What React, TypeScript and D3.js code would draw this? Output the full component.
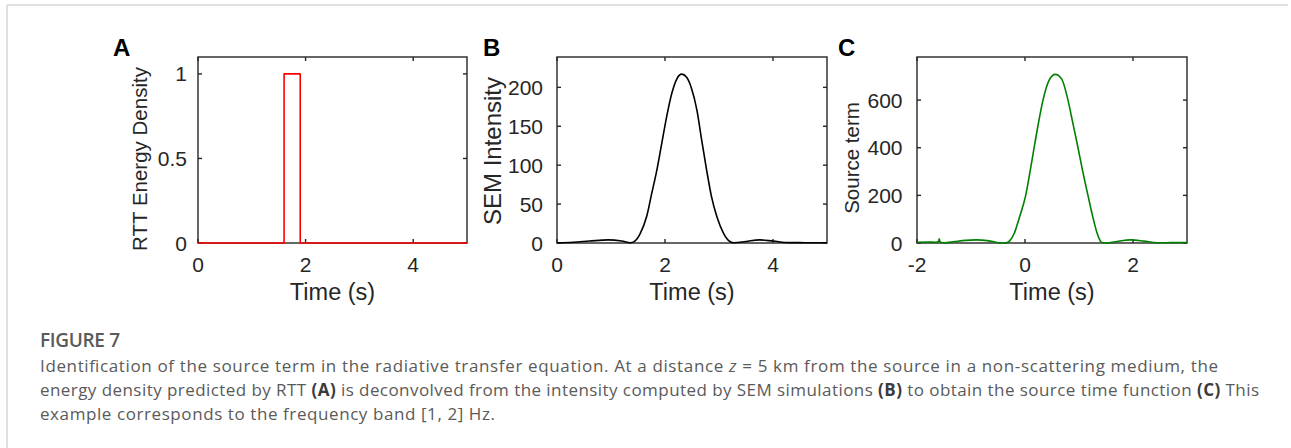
import React from 'react';
import * as d3 from 'd3';

// ---------- Data ----------
const rttTime = [0, 1.6, 1.6, 1.9, 1.9, 5];
const rttValue = [0, 0, 1, 1, 0, 0];

const semTime = [0, 0.3, 0.6, 0.95, 1.2, 1.36, 1.42, 1.48, 1.54, 1.66, 1.755, 1.85, 1.94, 2.03, 2.125, 2.22, 2.31, 2.4, 2.49, 2.59, 2.68, 2.77, 2.86, 2.96, 3.08, 3.14, 3.2, 3.28, 3.5, 3.75, 4.0, 4.3, 4.6, 5.0];
const semValue = [0.3, 1, 2.5, 4, 2.5, 0.4, 1.5, 5, 12, 34, 64, 94, 128, 162, 192, 211, 217, 213, 199, 171, 132, 94, 60, 34, 13, 6, 2, 0.3, 2, 4, 2.5, 0.5, 0.4, 0.3];

const srcTime = [-2, -1.8, -1.65, -1.6, -1.59, -1.575, -1.5, -1.3, -1.1, -0.9, -0.7, -0.55, -0.47, -0.4, -0.35, -0.28, -0.2, -0.1, 0.013, 0.09, 0.161, 0.25, 0.333, 0.45, 0.563, 0.68, 0.796, 0.88, 0.98, 1.07, 1.167, 1.25, 1.33, 1.38, 1.42, 1.48, 1.55, 1.7, 1.95, 2.2, 2.45, 2.7, 3.0];
const srcValue = [3, 4, 3, 6, 18, 6, 0.5, 6, 11, 13, 10, 4, 0.3, 0.2, 0.5, 10, 40, 110, 200, 295, 390, 505, 600, 685, 708, 688, 600, 510, 402, 300, 199, 115, 45, 15, 2, 0.3, 0.5, 6, 13, 8, 1, 1.5, 2];

const ticksA_x = [0, 2, 4];
const ticksA_y = [0, 0.5, 1];
const ticksB_x = [0, 2, 4];
const ticksB_y = [0, 50, 100, 150, 200];
const ticksC_x = [-2, 0, 2];
const ticksC_y = [0, 200, 400, 600];

const captionTitle = 'FIGURE 7';

const AXIS = '#262626';
const FONT = '"Liberation Sans", Arial, Helvetica, sans-serif';

type PanelProps = {
  left: number; right: number; top: number; bottom: number;
  xDomain: [number, number]; yDomain: [number, number];
  xTicks: number[]; yTicks: number[];
  times: number[]; values: number[];
  color: string; curve: any;
  letter: string; letterX: number;
  ylabel: string; ylabelSize: number; ylabelX: number; ylabelY: number;
  yTickGap: number;
};

function Panel(p: PanelProps) {
  const xs = d3.scaleLinear().domain(p.xDomain).range([p.left, p.right]);
  const ys = d3.scaleLinear().domain(p.yDomain).range([p.bottom, p.top]);
  const pts = p.times.map((t, i) => [t, p.values[i]] as [number, number]);
  const line = d3.line<[number, number]>().x(d => xs(d[0])).y(d => ys(d[1])).curve(p.curve);
  const tl = 4;
  const cx = (p.left + p.right) / 2;
  return (
    <g>
      <rect x={p.left} y={p.top} width={p.right - p.left} height={p.bottom - p.top}
        fill="none" stroke={AXIS} strokeWidth={1.4} />
      {p.xTicks.map(t => (
        <g key={'xt' + t}>
          <line x1={xs(t)} x2={xs(t)} y1={p.bottom} y2={p.bottom - tl} stroke={AXIS} strokeWidth={1.4} />
          <line x1={xs(t)} x2={xs(t)} y1={p.top} y2={p.top + tl} stroke={AXIS} strokeWidth={1.4} />
          <text x={xs(t)} y={p.bottom + 29} textAnchor="middle" fontSize={21} fill={AXIS} fontFamily={FONT}>{String(t)}</text>
        </g>
      ))}
      {p.yTicks.map(t => (
        <g key={'yt' + t}>
          <line x1={p.left} x2={p.left + tl} y1={ys(t)} y2={ys(t)} stroke={AXIS} strokeWidth={1.4} />
          <line x1={p.right} x2={p.right - tl} y1={ys(t)} y2={ys(t)} stroke={AXIS} strokeWidth={1.4} />
          <text x={p.left - p.yTickGap} y={ys(t) + 7.5} textAnchor="end" fontSize={21} fill={AXIS} fontFamily={FONT}>{String(t)}</text>
        </g>
      ))}
      <path d={line(pts) || ''} fill="none" stroke={p.color} strokeWidth={1.6} strokeLinejoin="round" />
      <text x={cx} y={300} textAnchor="middle" fontSize={23.5} fill={AXIS} fontFamily={FONT}>Time (s)</text>
      <text transform={`translate(${p.ylabelX},${p.ylabelY}) rotate(-90)`} textAnchor="middle"
        fontSize={p.ylabelSize} fill={AXIS} fontFamily={FONT}>{p.ylabel}</text>
      <text x={p.letterX} y={56} fontSize={24} fontWeight="bold" fill="#000" fontFamily={FONT}>{p.letter}</text>
    </g>
  );
}

export default function App() {
  const top = 57, bottom = 243;
  const capFont = '"Open Sans", Lato, "Noto Sans", sans-serif';
  const capColor = '#5a5a5a';
  const boldColor = '#3a3a3a';
  return (
    <svg width={1291} height={448} style={{ position: 'absolute', left: 0, top: 0, background: '#fff' }}>
      <rect x={0} y={0} width={1291} height={448} fill="#fff" />
      <line x1={7} x2={1288} y1={5} y2={5} stroke="#d6d6d6" strokeWidth={1.5} />
      <line x1={7} x2={7} y1={5} y2={448} stroke="#d6d6d6" strokeWidth={1.5} />

      <Panel left={198} right={467} top={top} bottom={bottom} xDomain={[0, 5]} yDomain={[0, 1.1]}
        xTicks={ticksA_x} yTicks={ticksA_y} times={rttTime} values={rttValue} color="#ff0000"
        curve={d3.curveLinear} letter="A" letterX={113} ylabel="RTT Energy Density" ylabelSize={20.5}
        ylabelX={147} ylabelY={159} yTickGap={11} />
      <Panel left={557} right={827} top={top} bottom={bottom} xDomain={[0, 5]} yDomain={[0, 239]}
        xTicks={ticksB_x} yTicks={ticksB_y} times={semTime} values={semValue} color="#000000"
        curve={d3.curveMonotoneX} letter="B" letterX={483} ylabel="SEM Intensity" ylabelSize={24}
        ylabelX={501} ylabelY={151} yTickGap={14} />
      <Panel left={917} right={1187} top={top} bottom={bottom} xDomain={[-2, 3]} yDomain={[0, 781]}
        xTicks={ticksC_x} yTicks={ticksC_y} times={srcTime} values={srcValue} color="#008000"
        curve={d3.curveMonotoneX} letter="C" letterX={838} ylabel="Source term" ylabelSize={20.5}
        ylabelX={859} ylabelY={158} yTickGap={14.5} />

      <text x={40} y={347} fontSize={19} fontWeight={600} fill="#5a5a5a" fontFamily={capFont} textLength={80} lengthAdjust="spacing">{captionTitle}</text>
      <text x={40} y={372} fontSize={17} fill={capColor} fontFamily={capFont} textLength={1178} lengthAdjust="spacing">
        Identification of the source term in the radiative transfer equation. At a distance <tspan fontStyle="italic">z</tspan> = 5 km from the source in a non-scattering medium, the
      </text>
      <text x={40} y={396} fontSize={17} fill={capColor} fontFamily={capFont} textLength={1219} lengthAdjust="spacing">
        energy density predicted by RTT <tspan fontWeight="bold" fill={boldColor}>(A)</tspan> is deconvolved from the intensity computed by SEM simulations <tspan fontWeight="bold" fill={boldColor}>(B)</tspan> to obtain the source time function <tspan fontWeight="bold" fill={boldColor}>(C)</tspan> This
      </text>
      <text x={40} y={420} fontSize={17} fill={capColor} fontFamily={capFont} textLength={455} lengthAdjust="spacing">
        example corresponds to the frequency band [1, 2] Hz.
      </text>
    </svg>
  );
}
